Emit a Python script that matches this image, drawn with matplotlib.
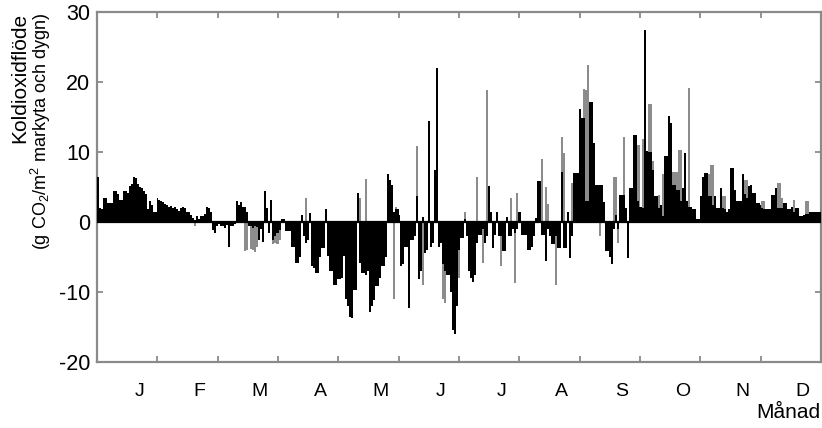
import numpy as np
import matplotlib
matplotlib.use("Agg")
import matplotlib.pyplot as plt

plt.rcParams['font.family'] = ['Liberation Sans', 'DejaVu Sans']
plt.rcParams['mathtext.fontset'] = 'custom'
plt.rcParams['mathtext.rm'] = 'Liberation Sans'
plt.rcParams['mathtext.it'] = 'Liberation Sans'

# Daily CO2 flux, main (black) series, day 0..364
black_flux = [
    6.5, 2.0, 1.8, 3.4, 3.4, 2.7, 2.7, 2.7, 4.5, 4.5,
    4.0, 3.2, 3.2, 4.4, 4.4, 4.2, 5.1, 5.5, 6.5, 6.3,
    5.5, 5.0, 4.8, 4.4, 4.0, 1.8, 3.0, 2.5, 1.5, 1.5,
    3.4, 3.2, 3.0, 2.8, 2.6, 2.4, 2.2, 2.3, 2.0, 2.2,
    1.8, 1.6, 2.0, 2.2, 2.0, 1.5, 1.5, 1.0, 0.6, 0.3,
    0.8, 0.5, 0.9, 0.8, 1.2, 2.1, 2.0, 1.5, -1.1, -1.6,
    -0.5, -0.3, -0.6, -0.5, -0.8, -0.4, -3.5, -0.5, -0.6, -0.3,
    3.0, 2.5, 2.8, 2.2, 2.1, 1.5, -0.5, -0.6, -0.8, -0.5,
    -0.7, -2.5, -1.0, -2.8, 4.4, 2.0, -1.5, 3.2, -2.5, -2.0,
    -1.5, -1.5, -1.2, 0.5, 0.5, -1.3, -1.3, -1.3, -3.5, -3.5,
    -5.9, -5.9, -5.0, 1.0, -2.0, -3.0, -2.5, 1.3, -6.3, -6.6,
    -7.3, -7.3, -5.0, -3.7, -3.7, 1.9, -4.9, -7.0, -7.0, -9.0,
    -9.0, -8.2, -8.2, -8.0, -4.9, -11.0, -12.0, -13.5, -13.7, -9.7,
    -9.7, 4.2, -5.9, -7.3, -7.3, -7.5, -7.0, -12.8, -12.0, -11.1,
    -9.2, -9.2, -8.0, -6.3, -6.3, -5.0, 6.8, 6.0, 5.3, 1.5,
    1.8, 1.8, 1.0, -6.3, -6.0, -3.5, -3.5, -12.3, -2.5, -2.5,
    -2.0, 3.7, -8.2, -7.0, 0.7, -4.4, -4.0, 14.4, -3.5, -3.0,
    7.5, 22.0, -3.5, -3.0, -6.0, -7.0, -7.6, -7.6, -10.0, -15.4,
    -16.0, -12.0, -4.0, -2.3, -2.3, 0.5, -2.0, -7.0, -8.0, -8.6,
    -7.5, -3.0, -1.8, -1.8, -1.0, -3.0, -2.0, 5.2, 1.5, -3.7,
    -1.8, 1.4, -2.0, -2.0, -4.2, -4.2, 0.7, -2.0, -2.0, -1.0,
    -1.5, -1.0, 1.5, 1.5, -1.8, -1.8, -1.8, -4.0, -4.0, -3.5,
    -2.0, 0.6, 5.8, 5.8, -1.8, -1.8, -5.6, -1.0, -2.0, -3.1,
    -3.1, -2.0, -3.7, -3.7, 7.2, -3.7, -3.7, 1.5, -5.1, -2.0,
    7.0, 7.0, 7.0, 16.2, 14.9, 14.9, 3.0, 3.0, 17.1, 17.1,
    11.3, 5.3, 5.3, 5.3, 5.3, 2.9, -4.2, -4.2, -5.0, -6.0,
    -1.0, 1.0, -1.0, 3.8, 3.8, 3.8, 2.0, -5.1, 4.9, 4.9,
    12.4, 12.4, 3.0, 2.2, 2.2, 2.0, 27.5, 10.1, 10.0, 10.0,
    7.5, 3.7, 3.7, 2.0, 2.5, 0.8, 9.4, 9.4, 15.1, 14.1,
    5.3, 5.3, 4.6, 4.6, 3.0, 4.9, 9.9, 3.0, 2.2, 2.2,
    1.8, 1.8, 0.5, 0.5, 3.7, 6.5, 7.0, 7.0, 3.7, 3.7,
    2.5, 3.7, 2.0, 2.0, 4.9, 2.0, 1.8, 1.5, 1.8, 7.7,
    7.7, 4.6, 3.0, 3.0, 3.0, 6.8, 4.0, 3.5, 5.1, 5.3,
    4.1, 4.1, 2.7, 2.7, 2.5, 2.0, 1.8, 1.8, 1.8, 1.8,
    3.9, 3.9, 4.9, 2.0, 2.0, 2.0, 2.7, 2.7, 1.8, 1.8,
    2.2, 1.5, 2.0, 2.0, 0.8, 0.8, 1.0, 1.2, 1.2, 1.5,
    1.5, 1.5, 1.5, 1.5, 1.5,
]

# Second (gray) series: days where it shows beyond the black bars
gray_days = [49, 74, 75, 77, 78, 79, 80, 88, 89, 90,
             91, 92, 105, 132, 135, 149, 150, 161, 164, 174,
             175, 182, 185, 191, 194, 196, 203, 208, 210, 211,
             224, 226, 227, 231, 234, 235, 239, 245, 246, 247,
             253, 260, 261, 262, 265, 272, 273, 275, 278, 279,
             280, 283, 285, 290, 291, 292, 293, 294, 298, 308,
             309, 310, 315, 316, 326, 327, 335, 336, 343, 344,
             345, 351, 357, 358]
gray_flux = [-0.6, -4.2, -4.0, -3.8, -4.0, -4.3, -3.5, -3.2, -3.0, -3.2,
             -3.2, -2.5, 3.4, 3.5, 6.1, -11.0, 2.1, 10.8, -9.0, -11.0,
             -11.6, -8.0, 1.4, 6.4, -5.9, 18.8, -6.3, 3.4, -8.7, 4.1,
             9.0, 5.0, 2.6, -9.0, 12.2, 9.9, 5.6, 19.0, 18.8, 22.4,
             -2.0, 6.4, 6.4, -3.0, 12.2, 11.0, 11.0, 11.8, 16.8, 16.8,
             8.7, 3.8, 6.8, 7.2, 7.2, 7.2, 10.3, 10.3, 19.1, 6.8,
             8.2, 8.2, 3.7, 3.7, 6.0, 6.0, 3.0, 3.0, 5.6, 5.6,
             3.4, 3.2, 3.0, 3.0]

months = ['J', 'F', 'M', 'A', 'M', 'J', 'J', 'A', 'S', 'O', 'N', 'D']
yticks = [-20, -10, 0, 10, 20, 30]

n_days = len(black_flux)
days = np.arange(n_days)

fig = plt.figure(figsize=(8.22, 4.28), dpi=100)
ax = fig.add_axes([97/822, 66/428, 724/822, 350/428])

ax.bar(np.array(gray_days) + 0.5, gray_flux, width=1.0, color='#8c8c8c',
       linewidth=0, zorder=2)
ax.bar(days + 0.5, black_flux, width=1.0, color='black', linewidth=0, zorder=3)
ax.axhline(0, color='black', lw=1.6, zorder=4)

ax.set_xlim(0, n_days)
ax.set_ylim(-20, 30)

month_len = n_days / 12
ax.set_xticks([month_len * i for i in range(1, 12)])
ax.set_xticklabels([])
ax.set_xticks([month_len * (i + 0.7) for i in range(12)], minor=True)
ax.set_xticklabels(months, minor=True)
ax.tick_params(axis='x', which='major', direction='in', length=4, width=1.2,
               color='#808080', top=True, bottom=True)
ax.tick_params(axis='x', which='minor', length=0, pad=15, labelsize=14)

ax.set_yticks(yticks)
ax.set_yticklabels([str(v) for v in yticks])
ax.tick_params(axis='y', direction='in', length=4, width=1.2, color='#808080',
               left=True, right=True, labelsize=15.5, pad=5)

for s in ax.spines.values():
    s.set_color('#8a8a8a')
    s.set_linewidth(1.6)

fig.text(20/822, 1 - 13/428, 'Koldioxidflöde', rotation=90, ha='center',
         va='top', fontsize=15)
fig.text(41/822, 1 - 13/428, r'(g CO$_2$/m$^2$ markyta och dygn)', rotation=90,
         ha='center', va='top', fontsize=13)
fig.text(820/822, 1 - 413/428, 'Månad', ha='right', va='center', fontsize=15)

fig.savefig('out.png', dpi=100)
